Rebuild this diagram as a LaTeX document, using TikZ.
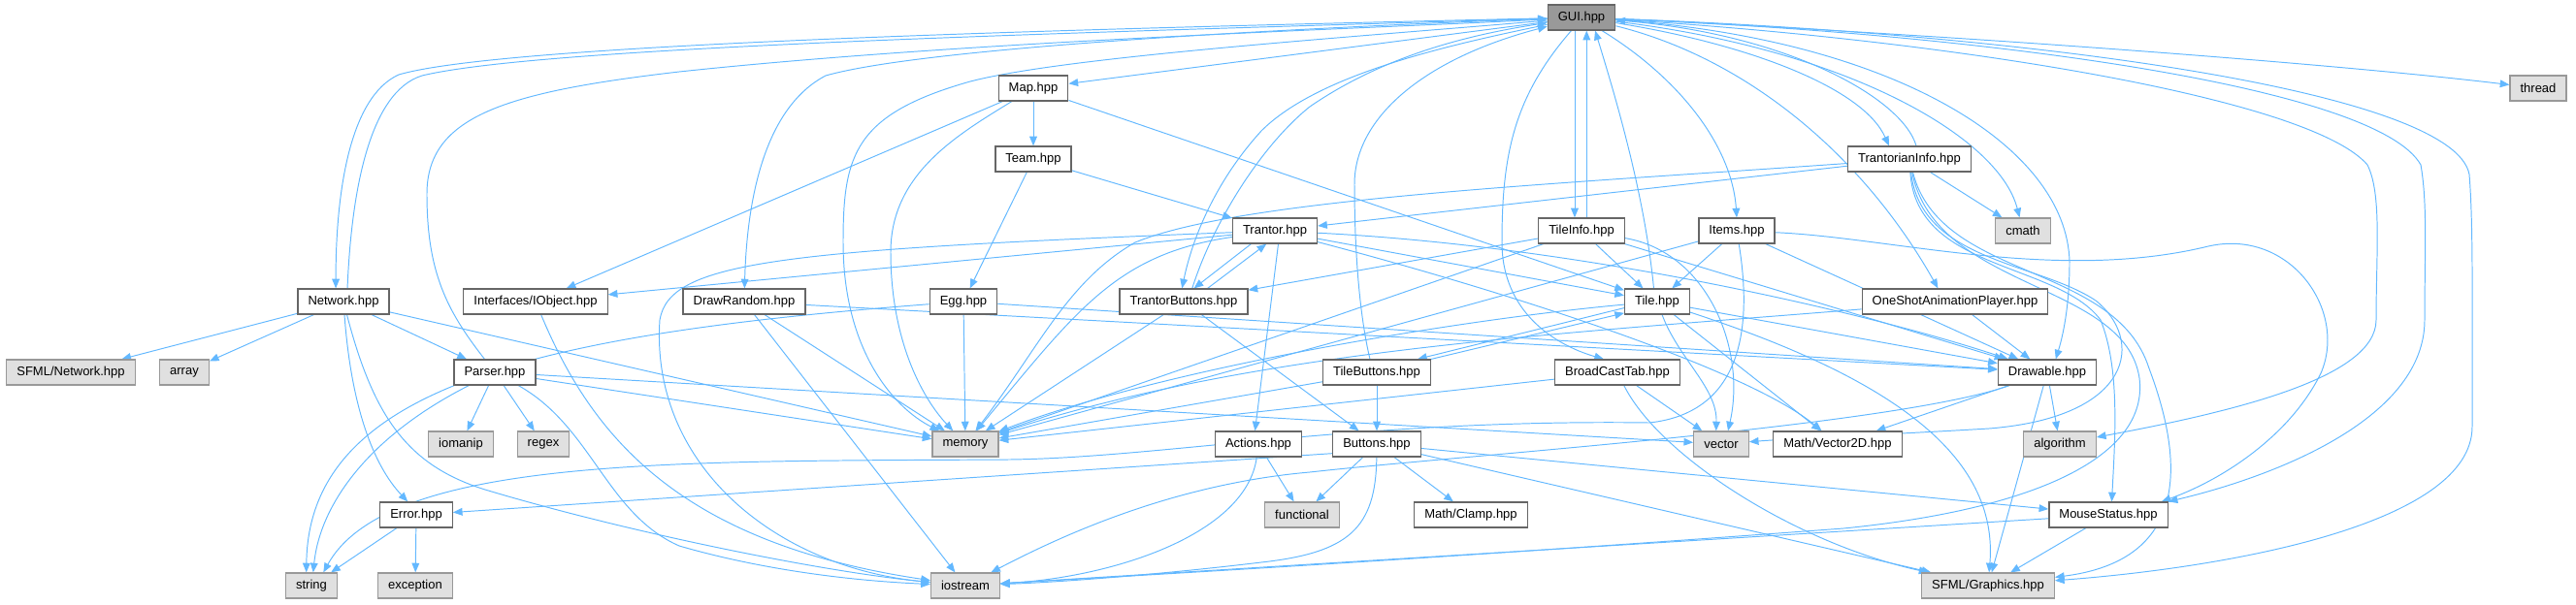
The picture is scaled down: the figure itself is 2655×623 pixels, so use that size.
\documentclass[tikz,border=0pt]{standalone}
\usepackage{fontspec}
\setmainfont{Liberation Sans}
\usetikzlibrary{arrows.meta}

\definecolor{edgeblue}{HTML}{63B8FF}
\definecolor{boxline}{HTML}{666666}
\definecolor{sysline}{HTML}{999999}
\definecolor{sysfill}{HTML}{E0E0E0}
\definecolor{rootfill}{HTML}{999999}

\pgfdeclarelayer{edges}
\pgfsetlayers{edges,main}

\begin{document}
\begin{tikzpicture}[
    x=0.02cm, y=-0.02cm,
    font=\fontsize{7.4}{9}\selectfont,
    incbox/.style={draw=boxline, line width=0.7pt, fill=white,
                   minimum height=14.8pt, inner xsep=6pt, inner ysep=1pt},
    sysbox/.style={incbox, draw=sysline, fill=sysfill},
    rootbox/.style={incbox, fill=rootfill},
    dep/.style={-{Triangle[length=5.5pt,width=4.4pt]}, edgeblue, line width=0.55pt},
  ]
  \useasboundingbox (0,0) rectangle (2655,623);

  % ============================== Files ===================================
  \node[rootbox] (gui) at (1630,18) {GUI.hpp};

  \node[incbox] (map)         at (1065,91)  {Map.hpp};
  \node[sysbox] (thread)      at (2616,91)  {thread};

  \node[incbox] (team)        at (1065,164) {Team.hpp};
  \node[incbox] (tinfo)       at (1968,164) {TrantorianInfo.hpp};

  \node[incbox] (trantor)     at (1314,238) {Trantor.hpp};
  \node[incbox] (tileinfo)    at (1630,238) {TileInfo.hpp};
  \node[incbox] (items)       at (1790,238) {Items.hpp};
  \node[sysbox] (cmath)       at (2085,238) {cmath};

  \node[incbox] (network)     at (354,311)  {Network.hpp};
  \node[incbox] (iobject)     at (552,311)  {Interfaces/IObject.hpp};
  \node[incbox] (drawrandom)  at (767,311)  {DrawRandom.hpp};
  \node[incbox] (egg)         at (993,311)  {Egg.hpp};
  \node[incbox] (tbuttons)    at (1220,311) {TrantorButtons.hpp};
  \node[incbox] (tile)        at (1708,311) {Tile.hpp};
  \node[incbox] (oneshot)     at (2015,311) {OneShotAnimationPlayer.hpp};

  \node[sysbox] (sfnet)       at (73,384)   {SFML/Network.hpp};
  \node[sysbox] (array)       at (190,384)  {array};
  \node[incbox] (parser)      at (510,384)  {Parser.hpp};
  \node[incbox] (tilebuttons) at (1419,384) {TileButtons.hpp};
  \node[incbox] (broadcast)   at (1667,384) {BroadCastTab.hpp};
  \node[incbox] (drawable)    at (2110,384) {Drawable.hpp};

  \node[sysbox] (iomanip)     at (475,458)  {iomanip};
  \node[sysbox] (regex)       at (560,458)  {regex};
  \node[sysbox] (memory)      at (995,458)  {memory};
  \node[incbox] (actions)     at (1297,458) {Actions.hpp};
  \node[incbox] (buttons)     at (1419,458) {Buttons.hpp};
  \node[sysbox] (vector)      at (1774,458) {vector};
  \node[incbox] (vecmath)     at (1894,458) {Math/Vector2D.hpp};
  \node[sysbox] (algorithm)   at (2123,458) {algorithm};

  \node[incbox] (error)       at (429,531)  {Error.hpp};
  \node[sysbox] (functional)  at (1342,531) {functional};
  \node[incbox] (clamp)       at (1516,531) {Math/Clamp.hpp};
  \node[incbox] (mouse)       at (2173,531) {MouseStatus.hpp};

  \node[sysbox] (string)      at (321,604)  {string};
  \node[sysbox] (exception)   at (428,604)  {exception};
  \node[sysbox] (iostream)    at (995,604)  {iostream};
  \node[sysbox] (sfgraph)     at (2049,604) {SFML/Graphics.hpp};

  \begin{pgfonlayer}{edges}
  % ============================== GUI.hpp =================================
  \draw[dep] (gui) .. controls (1100,30) and (520,45) .. (411,77)
    .. controls (360,100) and (346,200) .. ([xshift=-4.5pt]network.north);
  \draw[dep] ([xshift=2.3pt]network.north) .. controls (362,200) and (380,95) .. (435,78)
    .. controls (560,48) and (1100,34) .. (gui);
  \draw[dep] ([xshift=-6pt]parser.north) .. controls (460,320) and (440,280) .. (440,200)
    .. controls (440,120) and (520,95) .. (700,74)
    .. controls (1000,42) and (1400,30) .. (gui);
  \draw[dep] (gui) -- (map);
  \draw[dep] (gui) .. controls (1300,30) and (950,50) .. (851,78)
    .. controls (790,110) and (770,200) .. (drawrandom);
  \draw[dep] (gui) .. controls (1400,38) and (1100,58) .. (1000,84)
    .. controls (880,118) and (869,160) .. (869,250)
    .. controls (869,360) and (920,420) .. (memory);
  \draw[dep] (gui) .. controls (1500,45) and (1360,75) .. (1300,135)
    .. controls (1250,190) and (1228,250) .. ([xshift=-1pt]tbuttons.north);
  \draw[dep] ([xshift=5pt]tbuttons.north) .. controls (1250,230) and (1300,150) .. (1350,110)
    .. controls (1430,55) and (1520,35) .. (gui);
  \draw[dep] ([xshift=-4pt]tilebuttons.north) .. controls (1400,320) and (1396,250) .. (1396,190)
    .. controls (1396,120) and (1470,60) .. (gui);
  \draw[dep] ([xshift=-4pt]gui.south) -- ([xshift=-4pt]tileinfo.north);
  \draw[dep] ([xshift=3pt]tileinfo.north) -- ([xshift=3pt]gui.south);
  \draw[dep] ([xshift=-2pt]tile.north) .. controls (1695,200) and (1665,100) .. ([xshift=8pt]gui.south);
  \draw[dep] ([xshift=12pt]gui.south) .. controls (1730,80) and (1785,150) .. (items.north);
  \draw[dep] ([xshift=-6pt]gui.south) .. controls (1560,100) and (1548,160) .. (1548,250)
    .. controls (1548,320) and (1600,355) .. ([xshift=-8pt]broadcast.north);
  \draw[dep] (gui) .. controls (1800,45) and (1920,90) .. ([xshift=-12pt]tinfo.north);
  \draw[dep] ([xshift=4pt]tinfo.north) .. controls (1960,100) and (1840,35) .. (gui);
  \draw[dep] (gui) .. controls (1800,60) and (1920,160) .. ([xshift=-10pt]oneshot.north);
  \draw[dep] (gui) .. controls (1950,40) and (2130,150) .. (2133,270)
    .. controls (2133,320) and (2125,350) .. ([xshift=5pt]drawable.north);
  \draw[dep] (gui) .. controls (1900,50) and (2060,140) .. (cmath);
  \draw[dep] (gui) .. controls (2000,35) and (2400,65) .. (thread);
  \draw[dep] (gui) .. controls (2000,40) and (2380,100) .. (2440,170)
    .. controls (2455,200) and (2449,260) .. (2449,330)
    .. controls (2449,390) and (2300,425) .. (algorithm);
  \draw[dep] (gui) .. controls (2050,35) and (2450,90) .. (2495,170)
    .. controls (2502,210) and (2499,260) .. (2499,330)
    .. controls (2499,430) and (2350,490) .. (mouse.north east);
  \draw[dep] (gui) .. controls (2100,35) and (2530,95) .. (2545,180)
    .. controls (2549,230) and (2548,300) .. (2548,440)
    .. controls (2548,540) and (2300,585) .. (sfgraph);

  % ============================== Network / Parser ========================
  \draw[dep] (network) -- (sfnet);
  \draw[dep] (network) -- (array);
  \draw[dep] (network) -- (parser);
  \draw[dep] (network) .. controls (362,420) and (385,480) .. ([xshift=-5pt]error.north);
  \draw[dep] (network) -- (memory);
  \draw[dep] (network) .. controls (385,430) and (420,480) .. (500,505)
    .. controls (650,550) and (850,590) .. (iostream);

  \draw[dep] (parser) -- (iomanip);
  \draw[dep] (parser) -- (regex);
  \draw[dep] (parser) .. controls (380,450) and (330,520) .. ([xshift=1pt]string.north);
  \draw[dep] (parser) .. controls (610,440) and (625,530) .. (700,563)
    .. controls (800,592) and (900,600) .. (iostream);
  \draw[dep] (parser) -- (memory);
  \draw[dep] (parser) -- (vector);

  \draw[dep] (error) -- (string);
  \draw[dep] (error) -- (exception);
  \draw[dep] (iobject) .. controls (610,450) and (700,560) .. (iostream);

  % ============================== Map / Team / Egg ========================
  \draw[dep] (map) -- (team);
  \draw[dep] (map) -- (iobject);
  \draw[dep] (map) -- (tile);
  \draw[dep] (map) .. controls (985,140) and (918,180) .. (918,260)
    .. controls (918,350) and (950,410) .. (memory);
  \draw[dep] (team) -- (egg);
  \draw[dep] (team) -- (trantor);

  \draw[dep] (egg) .. controls (550,345) and (318,400) .. ([xshift=-3pt]string.north);
  \draw[dep] (egg) -- (memory);
  \draw[dep] (egg) -- (drawable);

  \draw[dep] (drawrandom) -- (memory);
  \draw[dep] (drawrandom) -- (iostream);
  \draw[dep] (drawrandom) -- (drawable);

  % ============================== Trantor =================================
  \draw[dep] (trantor) -- (iobject);
  \draw[dep] (trantor) .. controls (800,258) and (690,270) .. (680,330)
    .. controls (670,480) and (800,585) .. (iostream);
  \draw[dep] (trantor) .. controls (1150,262) and (1110,320) .. (memory);
  \draw[dep] ([xshift=-14pt]trantor.south) -- ([xshift=6pt]tbuttons.north);
  \draw[dep] ([xshift=14pt]tbuttons.north) -- ([xshift=-5pt]trantor.south);
  \draw[dep] ([xshift=2pt]trantor.south) -- ([xshift=-2pt]actions.north);
  \draw[dep] (trantor) -- (tile);
  \draw[dep] (trantor) .. controls (1650,255) and (1950,330) .. (drawable);
  \draw[dep] (trantor) .. controls (1550,300) and (1800,380) .. (vecmath);

  \draw[dep] (tbuttons) -- (memory);
  \draw[dep] (tbuttons) -- (buttons);

  % ============================== TrantorianInfo ==========================
  \draw[dep] (tinfo) -- (trantor);
  \draw[dep] (tinfo) -- (cmath);
  \draw[dep] (tinfo) .. controls (1600,190) and (1280,205) .. (1170,250)
    .. controls (1100,290) and (1070,360) .. (memory);
  \draw[dep] (tinfo) .. controls (1980,270) and (2100,270) .. (2160,310)
    .. controls (2210,350) and (2200,430) .. (2050,442)
    .. controls (1950,448) and (1850,452) .. (vector);
  \draw[dep] (tinfo) .. controls (1975,280) and (2120,270) .. (2165,330)
    .. controls (2185,380) and (2180,450) .. ([xshift=2pt]mouse.north);
  \draw[dep] (tinfo) .. controls (1995,300) and (2190,290) .. (2205,390)
    .. controls (2215,470) and (2100,525) .. (1900,545)
    .. controls (1500,575) and (1200,592) .. (iostream);
  \draw[dep] (tinfo) .. controls (2000,290) and (2180,270) .. (2215,380)
    .. controls (2260,500) and (2240,580) .. (sfgraph);

  % ============================== TileInfo / Items / Tile =================
  \draw[dep] (tileinfo) -- (tile);
  \draw[dep] (tileinfo) -- (tbuttons);
  \draw[dep] (tileinfo) -- (memory);
  \draw[dep] (tileinfo) .. controls (1760,260) and (1800,360) .. ([xshift=4pt]vector.north);
  \draw[dep] (tileinfo) -- (drawable);

  \draw[dep] (items) -- (tile);
  \draw[dep] (items) -- (memory);
  \draw[dep] (items) -- (drawable);
  \draw[dep] (items) .. controls (1805,330) and (1800,425) .. (1700,436)
    .. controls (1400,432) and (1200,472) .. (1040,474)
    .. controls (700,476) and (400,470) .. ([xshift=7pt]string.north);
  \draw[dep] (items) .. controls (1950,245) and (2120,292) .. (2276,254)
    .. controls (2360,235) and (2420,320) .. (2392,385)
    .. controls (2360,450) and (2290,495) .. ([xshift=-4pt]mouse.north east);

  \draw[dep] ([yshift=4pt]tile.south west) -- ([xshift=-8pt]tilebuttons.north east);
  \draw[dep] (tilebuttons.north east) -- ([yshift=1pt]tile.south west);
  \draw[dep] (tile) .. controls (1500,330) and (1200,380) .. (memory);
  \draw[dep] (tile) .. controls (1730,370) and (1770,400) .. ([xshift=-3pt]vector.north);
  \draw[dep] (tile) -- (vecmath);
  \draw[dep] (tile) -- (drawable);
  \draw[dep] (tile) .. controls (1950,390) and (2060,470) .. (sfgraph);

  \draw[dep] (tilebuttons) -- (memory);
  \draw[dep] (tilebuttons) -- (buttons);

  \draw[dep] (broadcast) -- (memory);
  \draw[dep] (broadcast) -- (vector);
  \draw[dep] (broadcast) .. controls (1710,470) and (1850,560) .. (sfgraph);

  \draw[dep] (oneshot) -- (drawable);
  \draw[dep] (oneshot) .. controls (1600,345) and (1300,360) .. (memory);

  % ============================== Drawable / Buttons ======================
  \draw[dep] (drawable) -- (vecmath);
  \draw[dep] (drawable) -- (algorithm);
  \draw[dep] (drawable) -- (sfgraph);
  \draw[dep] (drawable) .. controls (1950,440) and (1500,470) .. (1350,487)
    .. controls (1200,500) and (1080,560) .. (iostream);

  \draw[dep] ([yshift=-5.5pt]buttons.west) -- (error);
  \draw[dep] (buttons) -- (functional);
  \draw[dep] (buttons) -- (clamp);
  \draw[dep] (buttons) -- (mouse);
  \draw[dep] (buttons) -- (sfgraph);
  \draw[dep] (buttons) .. controls (1418,545) and (1390,570) .. (1300,580)
    .. controls (1200,592) and (1100,600) .. (iostream);

  \draw[dep] (actions) -- (functional);
  \draw[dep] (actions) .. controls (1285,550) and (1150,595) .. (iostream);

  \draw[dep] (mouse) -- (iostream);
  \draw[dep] (mouse) -- (sfgraph);
  \end{pgfonlayer}
\end{tikzpicture}
\end{document}
